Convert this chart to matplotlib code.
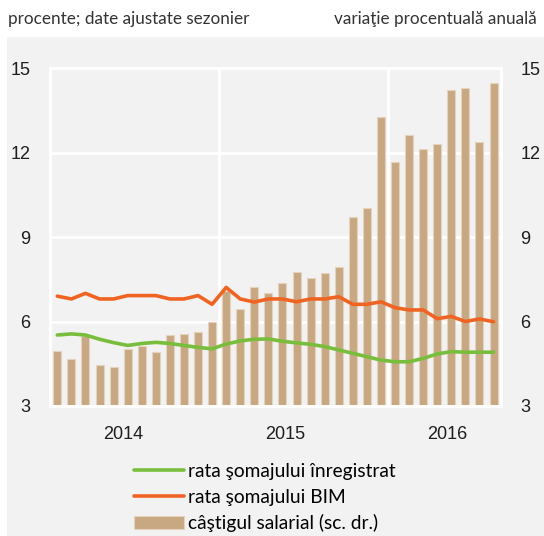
import numpy as np
import matplotlib
matplotlib.use('Agg')
import matplotlib.pyplot as plt
from matplotlib.patches import Rectangle

# date: ian 2014 - aug 2016, lunar
castig_salarial = [4.96, 4.68, 5.48, 4.44, 4.40, 5.02, 5.13, 4.92, 5.52, 5.57, 5.63, 6.00,
                   7.08, 6.43, 7.21, 7.02, 7.35, 7.74, 7.54, 7.71, 7.93, 9.72, 10.03, 13.26,
                   11.65, 12.63, 12.12, 12.31, 14.21, 14.28, 12.37, 14.48]
somaj_bim = [6.90, 6.80, 7.00, 6.80, 6.80, 6.92, 6.92, 6.92, 6.80, 6.80, 6.92, 6.61,
             7.21, 6.80, 6.69, 6.80, 6.80, 6.70, 6.80, 6.80, 6.88, 6.61, 6.61, 6.70,
             6.49, 6.41, 6.41, 6.10, 6.18, 6.00, 6.09, 5.99]
somaj_inregistrat = [5.52, 5.56, 5.52, 5.37, 5.25, 5.15, 5.22, 5.26, 5.22, 5.15, 5.08, 5.03,
                     5.20, 5.31, 5.37, 5.38, 5.30, 5.24, 5.19, 5.11, 4.99, 4.87, 4.75, 4.63,
                     4.57, 4.57, 4.69, 4.85, 4.93, 4.91, 4.91, 4.91]
ani = ['2014', '2015', '2016']
pozitii_ani = [4.7, 16.2, 27.7]
y_ticks = [3, 6, 9, 12, 15]

gri = '#f2f2f2'
verde = '#78be3c'
portocaliu = '#f06423'
bej = '#c8a882'
text_col = '#1e1e1e'
font_cond = ['Liberation Sans', 'DejaVu Sans']
font_text = ['Lato', 'DejaVu Sans']

x = np.arange(len(castig_salarial))

fig = plt.figure(figsize=(5.44, 5.36), dpi=100, facecolor='white')
fig.patches.append(Rectangle((7 / 544, 0), 1, 499 / 536, transform=fig.transFigure,
                             facecolor=gri, edgecolor='none', zorder=-10))

ax = fig.add_axes([50 / 544, 130 / 536, 451 / 544, 338 / 536])
ax2 = ax.twinx()

# bare pe axa din dreapta, sub linii
ax.set_zorder(2)
ax2.set_zorder(1)
ax.patch.set_visible(False)
ax2.set_facecolor(gri)
ax2.bar(x, castig_salarial, width=0.57, color=bej, edgecolor='#e4d3bd',
        linewidth=0.8, zorder=2, label='câştigul salarial (sc. dr.)')
ax2.set_axisbelow(True)
ax2.grid(axis='y', color='white', linewidth=2)
for xv in [11.5, 23.5]:
    ax2.axvline(xv, color='white', linewidth=2, zorder=1)

ax.plot(x, somaj_inregistrat, color=verde, linewidth=2.6, solid_capstyle='round',
        label='rata şomajului înregistrat', zorder=3)
ax.plot(x, somaj_bim, color=portocaliu, linewidth=2.6, solid_capstyle='round',
        label='rata şomajului BIM', zorder=3)

for a in (ax, ax2):
    a.set_ylim(3, 15)
    a.set_xlim(-0.52, 31.53)
    a.set_yticks(y_ticks)
    a.set_yticklabels([str(v) for v in y_ticks], family=font_cond, fontsize=13, color=text_col)
    for s in a.spines.values():
        s.set_color('white')
        s.set_linewidth(2)
    a.tick_params(length=0, pad=14)

ax.set_xticks(pozitii_ani)
ax.set_xticklabels(ani, family=font_cond, fontsize=13, color=text_col)
ax.tick_params(axis='x', pad=14.5)

fig.text(8 / 544, 1 - 19 / 536, 'procente; date ajustate sezonier', ha='left', va='center',
         family=font_text, fontsize=12.3, color='#333333')
fig.text(537 / 544, 1 - 19 / 536, 'variaţie procentuală anuală', ha='right', va='center',
         family=font_text, fontsize=12.3, color='#333333')

h1, l1 = ax.get_legend_handles_labels()
h2, l2 = ax2.get_legend_handles_labels()
fig.legend(h1 + h2, l1 + l2, loc='upper left', bbox_to_anchor=(134 / 544, 1 - 463 / 536),
           frameon=False, prop={'family': font_text, 'size': 13.8}, handlelength=2.6,
           handletextpad=0.2, labelspacing=0.45, borderaxespad=0, borderpad=0)

fig.savefig('out.png', dpi=100, facecolor=fig.get_facecolor())
